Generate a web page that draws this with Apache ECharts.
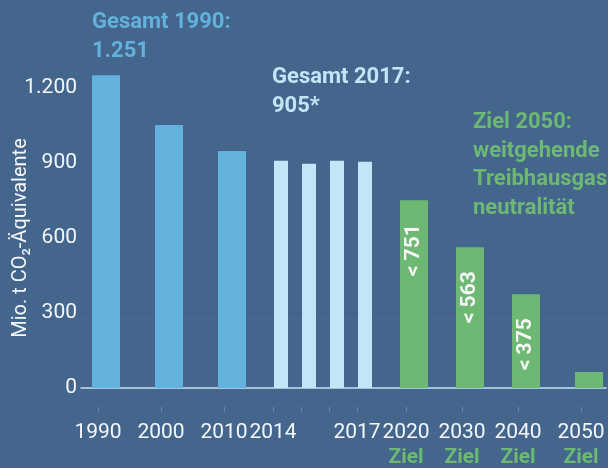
<!DOCTYPE html>
<html>
<head>
<meta charset="utf-8">
<script src="https://cdn.jsdelivr.net/npm/echarts@6/dist/echarts.min.js"></script>
<style>
  html, body { margin: 0; padding: 0; background: #45668c; }
  #emissionChart { width: 608px; height: 468px; }
</style>
</head>
<body>
<div id="emissionChart"></div>
<script>
  // Treibhausgasemissionen Deutschland, Mio. t CO2-Äquivalente
  const years = ['1990', '2000', '2010', '2014', '2015', '2016', '2017', '2020', '2030', '2040', '2050'];
  const tickLabels = ['1990', '2000', '2010', '2014', '', '', '2017', '2020', '2030', '2040', '2050'];
  const kinds = ['hist', 'hist', 'hist', 'recent', 'recent', 'recent', 'recent', 'target', 'target', 'target', 'target'];
  const emissions = [1251, 1052, 948, 909, 897, 909, 905, 751, 563, 375, 64];
  const targetLabelled = [true, true, true, false]; // 2050 ohne Zahl
  const yTicks = [0, 300, 600, 900, 1200];
  // horizontal spacing of the columns (axis units), the original is not evenly spaced
  const slots = [0, 9, 18, 25, 29, 33, 37, 44, 52, 60, 69];

  const colHist = '#63b1dd';
  const colRecent = '#c3e5f8';
  const colTarget = '#6db872';
  const fontName = 'Roboto, "Noto Sans", sans-serif';

  function dePoints(v) {
    return String(v).replace(/\B(?=(\d{3})+(?!\d))/g, '.');
  }
  function pick(kind) {
    let out = [];
    years.forEach(function (y, i) {
      if (kinds[i] === kind) out.push([slots[i], emissions[i]]);
    });
    return out;
  }

  let targetData = pick('target').map(function (d, i) {
    return { value: d, label: { show: targetLabelled[i] } };
  });

  let xMin = -25 / 7, xMax = 500 / 7;
  let labelShift = 8 / 7;

  let myChart = echarts.init(document.getElementById('emissionChart'));
  let option = {
    backgroundColor: '#45668c',
    animation: false,
    grid: { left: 81, right: 2, top: 88, bottom: 80, containLabel: false, outerBoundsMode: 'none' },
    xAxis: [
      {
        type: 'value', position: 'bottom', min: xMin, max: xMax,
        axisLine: { show: true, onZero: false, lineStyle: { color: '#c3e3f5', width: 1.5 } },
        axisTick: { show: false }, axisLabel: { show: false }, splitLine: { show: false }
      },
      {
        type: 'value', position: 'bottom', min: xMin, max: xMax, show: false,
        axisLine: { onZero: false }, splitLine: { show: false }
      },
      {
        type: 'value', position: 'bottom', offset: 19,
        min: xMin + labelShift, max: xMax + labelShift,
        axisLine: { show: false, onZero: false },
        splitLine: { show: false },
        axisTick: { show: true, length: 5, customValues: slots, lineStyle: { color: '#6f87a4' } },
        axisLabel: {
          show: true, margin: 14, customValues: slots,
          formatter: function (value) {
            let i = slots.indexOf(value);
            if (i < 0 || !tickLabels[i]) return '';
            if (kinds[i] === 'target') return '{y|' + tickLabels[i] + '}\n{z|Ziel}';
            return '{y|' + tickLabels[i] + '}';
          },
          rich: {
            y: { fontFamily: fontName, fontSize: 21, color: '#f4f7fa', lineHeight: 24 },
            z: { fontFamily: fontName, fontSize: 21, fontWeight: 'bold', color: colTarget, lineHeight: 26 }
          }
        }
      }
    ],
    yAxis: {
      type: 'value', min: 0, max: 1200, interval: 300,
      name: 'Mio. t CO\u2082-\u00c4quivalente',
      nameLocation: 'middle', nameGap: 50, nameMoveOverlap: false,
      nameTextStyle: { color: '#f4f7fa', fontSize: 20, fontFamily: fontName },
      axisLine: { show: false }, axisTick: { show: false },
      axisLabel: {
        color: '#f4f7fa', fontSize: 21, fontFamily: fontName, margin: 4,
        customValues: yTicks,
        formatter: function (v) { return dePoints(v); }
      },
      splitLine: {
        show: true,
        lineStyle: { color: ['rgba(0,0,0,0)', '#3f5e82', 'rgba(0,0,0,0)', 'rgba(0,0,0,0)', 'rgba(0,0,0,0)'], width: 1 }
      }
    },
    series: [
      {
        name: 'Emissionen', type: 'bar', xAxisIndex: 0, barWidth: 28, barGap: '-100%', clip: false,
        itemStyle: { color: colHist },
        data: pick('hist')
      },
      {
        name: 'Ziel', type: 'bar', xAxisIndex: 0, barWidth: 28, barGap: '-100%', clip: false,
        itemStyle: { color: colTarget },
        label: {
          show: true, position: 'insideTop', distance: 24, rotate: 90,
          align: 'right', verticalAlign: 'middle',
          color: '#f6f6f6', fontSize: 21, fontWeight: 'bold', fontFamily: fontName,
          formatter: function (p) { return '< ' + p.value[1]; }
        },
        data: targetData
      },
      {
        name: 'Emissionen 2014-2017', type: 'bar', xAxisIndex: 1, barWidth: 14, clip: false,
        itemStyle: { color: colRecent },
        data: pick('recent')
      }
    ],
    graphic: [
      {
        type: 'text', x: 92, y: 8,
        style: {
          text: 'Gesamt ' + years[0] + ':\n' + dePoints(emissions[0]),
          font: 'bold 22px ' + fontName, fill: colHist, lineHeight: 29, verticalAlign: 'top'
        }
      },
      {
        type: 'text', x: 272, y: 63,
        style: {
          text: 'Gesamt ' + years[6] + ':\n' + dePoints(emissions[6]) + '*',
          font: 'bold 22px ' + fontName, fill: colRecent, lineHeight: 29, verticalAlign: 'top'
        }
      },
      {
        type: 'text', x: 473, y: 108,
        style: {
          text: 'Ziel ' + years[10] + ':\nweitgehende\nTreibhausgas\nneutralit\u00e4t',
          font: 'bold 22px ' + fontName, fill: colTarget, lineHeight: 28.7, verticalAlign: 'top'
        }
      }
    ]
  };
  myChart.setOption(option, true);
</script>
</body>
</html>
